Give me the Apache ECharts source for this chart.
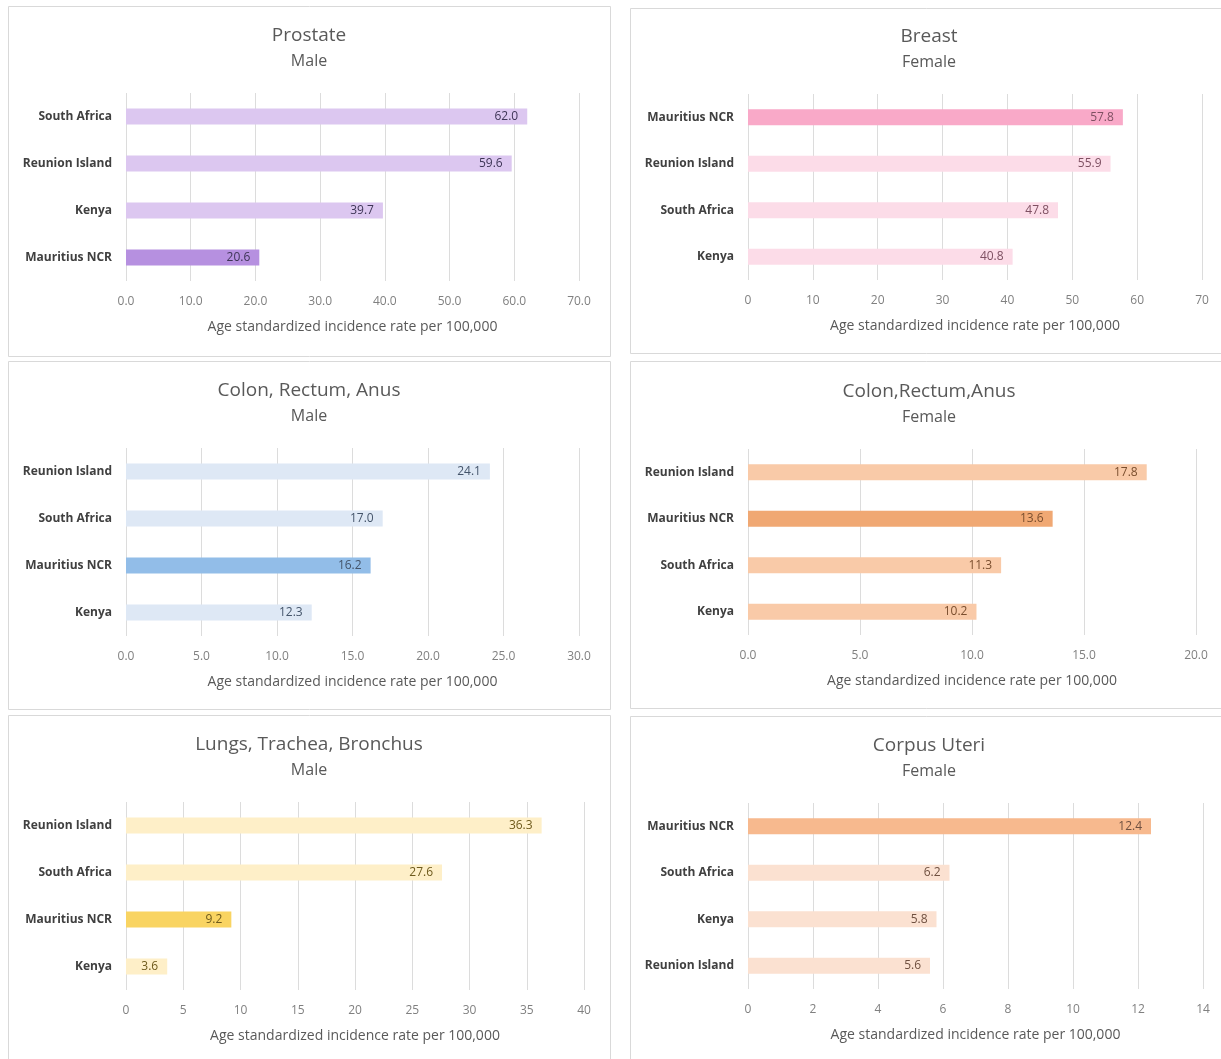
<!DOCTYPE html>
<html>
<head>
<meta charset="utf-8">
<script src="https://cdn.jsdelivr.net/npm/echarts@6/dist/echarts.min.js"></script>
<style>
  html, body { margin: 0; padding: 0; background: #ffffff; }
  #chart { width: 1221px; height: 1059px; }
</style>
</head>
<body>
<div id="chart"></div>
<script>
// Age standardized incidence rate per 100,000 by registry, six cancer sites

const prostateCategories = ['South Africa', 'Reunion Island', 'Kenya', 'Mauritius NCR'];
const prostateValues = [62.0, 59.6, 39.7, 20.6];
const prostateTicks = [0, 10, 20, 30, 40, 50, 60, 70];

const breastCategories = ['Mauritius NCR', 'Reunion Island', 'South Africa', 'Kenya'];
const breastValues = [57.8, 55.9, 47.8, 40.8];
const breastTicks = [0, 10, 20, 30, 40, 50, 60, 70];

const colonMaleCategories = ['Reunion Island', 'South Africa', 'Mauritius NCR', 'Kenya'];
const colonMaleValues = [24.1, 17.0, 16.2, 12.3];
const colonMaleTicks = [0, 5, 10, 15, 20, 25, 30];

const colonFemaleCategories = ['Reunion Island', 'Mauritius NCR', 'South Africa', 'Kenya'];
const colonFemaleValues = [17.8, 13.6, 11.3, 10.2];
const colonFemaleTicks = [0, 5, 10, 15, 20];

const lungsCategories = ['Reunion Island', 'South Africa', 'Mauritius NCR', 'Kenya'];
const lungsValues = [36.3, 27.6, 9.2, 3.6];
const lungsTicks = [0, 5, 10, 15, 20, 25, 30, 35, 40];

const uteriCategories = ['Mauritius NCR', 'South Africa', 'Kenya', 'Reunion Island'];
const uteriValues = [12.4, 6.2, 5.8, 5.6];
const uteriTicks = [0, 2, 4, 6, 8, 10, 12, 14];

const panelTitles = [
  ['Prostate', 'Male'],
  ['Breast', 'Female'],
  ['Colon, Rectum, Anus', 'Male'],
  ['Colon,Rectum,Anus', 'Female'],
  ['Lungs, Trachea, Bronchus', 'Male'],
  ['Corpus Uteri', 'Female']
];
const axisTitle = 'Age standardized incidence rate per 100,000';
const highlighted = 'Mauritius NCR';

// Per-panel drawing setup: frame, title anchor, plot area, palette, tick decimals
const panels = [
  { cats: prostateCategories, vals: prostateValues, ticks: prostateTicks, decimals: 1,
    box: [8, 6, 602, 350], title: [309, 26],
    grid: { left: 126, top: 93, width: 453, height: 188 },
    base: '#dcc7f0', accent: '#b690e0', labelColor: '#3e3556' },
  { cats: breastCategories, vals: breastValues, ticks: breastTicks, decimals: 0,
    box: [630, 8, 602, 345], title: [929, 27],
    grid: { left: 748, top: 94, width: 454, height: 186 },
    base: '#fcdce8', accent: '#f9a9c8', labelColor: '#7e5062' },
  { cats: colonMaleCategories, vals: colonMaleValues, ticks: colonMaleTicks, decimals: 1,
    box: [8, 361, 602, 348], title: [309, 381],
    grid: { left: 126, top: 448, width: 453, height: 188 },
    base: '#dee8f5', accent: '#92bde8', labelColor: '#44546a' },
  { cats: colonFemaleCategories, vals: colonFemaleValues, ticks: colonFemaleTicks, decimals: 1,
    box: [630, 361, 602, 347], title: [929, 382],
    grid: { left: 748, top: 449, width: 448, height: 186 },
    base: '#f9caa8', accent: '#f0a873', labelColor: '#7a4e2e' },
  { cats: lungsCategories, vals: lungsValues, ticks: lungsTicks, decimals: 0,
    box: [8, 715, 602, 350], title: [309, 735],
    grid: { left: 126, top: 802, width: 458, height: 188 },
    base: '#feefc8', accent: '#f9d462', labelColor: '#6e5a1c' },
  { cats: uteriCategories, vals: uteriValues, ticks: uteriTicks, decimals: 0,
    box: [630, 716, 602, 350], title: [929, 736],
    grid: { left: 748, top: 803, width: 455, height: 186 },
    base: '#fbe1d1', accent: '#f7b98e', labelColor: '#6f5040' }
];

const FONT = '"Open Sans", Lato, sans-serif';

const option = {
  backgroundColor: '#ffffff',
  animation: false,
  title: [],
  graphic: [],
  grid: [],
  xAxis: [],
  yAxis: [],
  series: []
};

panels.forEach((p, i) => {
  option.graphic.push({
    type: 'rect',
    shape: { x: p.box[0] + 0.5, y: p.box[1] + 0.5, width: p.box[2], height: p.box[3] },
    style: { fill: 'none', stroke: '#d9d9d9', lineWidth: 1 },
    silent: true
  });

  option.title.push({
    text: panelTitles[i][0],
    subtext: panelTitles[i][1],
    left: p.title[0],
    top: p.title[1],
    textAlign: 'center',
    padding: 0,
    itemGap: 8,
    textStyle: { fontFamily: FONT, fontSize: 19, fontWeight: 'normal', color: '#595959' },
    subtextStyle: { fontFamily: FONT, fontSize: 16, color: '#595959' }
  });

  option.grid.push(Object.assign({ containLabel: false }, p.grid));

  const step = p.ticks[1] - p.ticks[0];
  option.xAxis.push({
    type: 'value',
    gridIndex: i,
    min: p.ticks[0],
    max: p.ticks[p.ticks.length - 1],
    interval: step,
    axisLine: { show: false },
    axisTick: { show: false },
    splitLine: { show: true, lineStyle: { color: '#dcdcdc', width: 1 } },
    axisLabel: {
      margin: 15,
      fontFamily: FONT,
      fontSize: 12,
      color: '#808080',
      formatter: v => v.toFixed(p.decimals)
    },
    name: axisTitle,
    nameLocation: 'middle',
    nameGap: 39,
    nameTextStyle: { fontFamily: FONT, fontSize: 14, color: '#595959' }
  });

  option.yAxis.push({
    type: 'category',
    gridIndex: i,
    data: p.cats,
    inverse: true,
    axisLine: { show: false },
    axisTick: { show: false },
    axisLabel: {
      margin: 14,
      fontFamily: FONT,
      fontSize: 12,
      fontWeight: 'bold',
      color: '#404040'
    }
  });

  option.series.push({
    type: 'bar',
    xAxisIndex: i,
    yAxisIndex: i,
    barWidth: 16,
    data: p.vals.map((v, k) => ({
      value: v,
      itemStyle: { color: p.cats[k] === highlighted ? p.accent : p.base }
    })),
    label: {
      show: true,
      position: 'insideRight',
      distance: 9,
      fontFamily: FONT,
      fontSize: 12,
      color: p.labelColor,
      formatter: d => d.value.toFixed(1)
    }
  });
});

const chart = echarts.init(document.getElementById('chart'), null, { renderer: 'canvas' });
chart.setOption(option);
</script>
</body>
</html>
